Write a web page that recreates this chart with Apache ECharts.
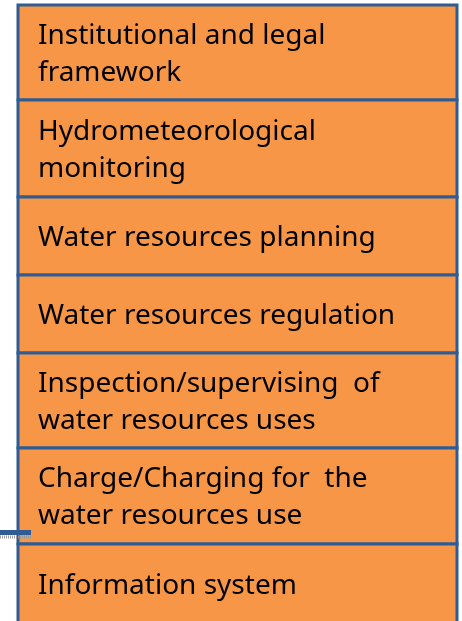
<!DOCTYPE html>
<html>
<head>
<meta charset="utf-8">
<script src="https://cdn.jsdelivr.net/npm/echarts@6/dist/echarts.min.js"></script>
<style>
  html, body { margin: 0; padding: 0; background: #fff; }
  #main { width: 462px; height: 621px; }
</style>
</head>
<body>
<div id="main"></div>
<script>
// one box per row, top to bottom
const rows = [
  'Institutional and legal\nframework',
  'Hydrometeorological\nmonitoring',
  'Water resources planning',
  'Water resources regulation',
  'Inspection/supervising  of\nwater resources uses',
  'Charge/Charging for  the\nwater resources use',
  'Information system',
]
// relative height of each row
const rowSizes = [95, 97, 78, 78, 95, 96, 80]

const myChart = echarts.init(document.getElementById('main'))

let acc = 0
const boxes = rows.map((name, i) => {
  const item = [acc, acc + rowSizes[i], name]
  acc += rowSizes[i]
  return item
})

const renderBox = (params, api) => {
  const p0 = api.coord([0, api.value(0)])
  const p1 = api.coord([1, api.value(1)])
  const x = p0[0]
  const y = p0[1]
  const w = p1[0] - p0[0]
  const h = p1[1] - p0[1]
  return {
    type: 'group',
    children: [{
      type: 'rect',
      shape: { x, y, width: w, height: h },
      style: { fill: '#F79646', stroke: '#2F5C94', lineWidth: 3 },
    }, {
      type: 'text',
      style: {
        text: boxes[params.dataIndex][2],
        x: x + 20,
        y: y + h / 2 + 2,
        verticalAlign: 'middle',
        fill: '#000',
        fontFamily: 'Noto Sans',
        fontSize: 28,
        lineHeight: 37,
      },
    }],
  }
}

const option = {
  animation: false,
  grid: {
    left: 18, right: 5, top: 5, bottom: 0,
  },
  xAxis: {
    type: 'value', min: 0, max: 1, show: false,
  },
  yAxis: {
    type: 'value', inverse: true, min: 0, max: 616, show: false,
  },
  series: [{
    type: 'custom',
    renderItem: renderBox,
    data: boxes,
    clip: false,
    silent: true,
  }],
  graphic: [{
    type: 'line',
    z: 100,
    shape: { x1: 0, y1: 532.5, x2: 31, y2: 532.5 },
    style: { stroke: '#2F5C94', lineWidth: 5 },
  }, {
    type: 'line',
    z: 100,
    shape: { x1: 0, y1: 537, x2: 31, y2: 537 },
    style: { stroke: '#9a9a9a', lineWidth: 3, lineDash: [1, 1] },
  }],
}
myChart.setOption(option)
</script>
</body>
</html>
